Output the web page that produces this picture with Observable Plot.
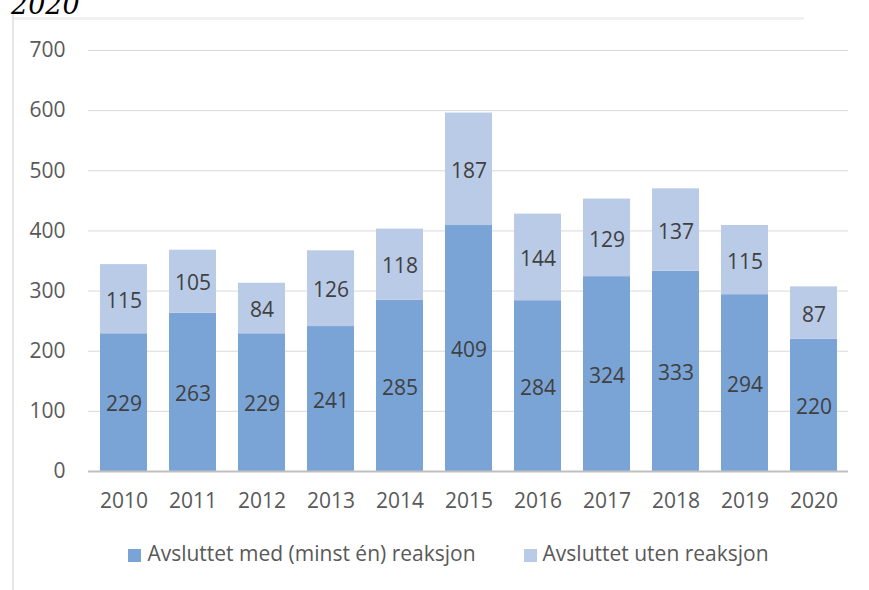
<!DOCTYPE html>
<html><head><meta charset="utf-8">
<script src="https://cdn.jsdelivr.net/npm/d3@7"></script>
<script src="https://cdn.jsdelivr.net/npm/@observablehq/plot@0.6"></script>
<style>
body{margin:0;background:#fff;font-family:"Open Sans",sans-serif;}
#wrap{position:relative;width:869px;height:590px;overflow:hidden;background:#fff;}
#title{position:absolute;left:11px;top:-11px;font:italic 27px "DejaVu Serif",serif;color:#000;line-height:1.2;}
#frame{position:absolute;left:12px;top:14px;width:2px;height:600px;background:#e6e6e6;}
#topline{position:absolute;left:14px;top:17px;width:790px;height:3px;background:#f1f1f1;}
#chart{position:absolute;left:0;top:0;}
#legend{position:absolute;left:0;top:539px;width:869px;display:flex;justify-content:center;gap:48px;font-size:21px;color:#595959;padding-left:28px;box-sizing:border-box;}
#legend span.sw{display:inline-block;width:13px;height:13px;margin-right:6px;vertical-align:-1px;}
</style></head>
<body><div id="wrap">
<div id="frame"></div><div id="topline"></div>
<div id="chart"></div>
<div id="title">2020</div>
<div id="legend"></div>
</div>
<script>
const years = ["2010","2011","2012","2013","2014","2015","2016","2017","2018","2019","2020"];
const medReaksjon = [229,263,229,241,285,409,284,324,333,294,220];
const utenReaksjon = [115,105,84,126,118,187,144,129,137,115,87];
const seriesNames = ["Avsluttet med (minst én) reaksjon","Avsluttet uten reaksjon"];
const colors = ["#7ba4d6","#bacbe7"];
const yTicks = [0,100,200,300,400,500,600,700];

const data = [];
years.forEach((y,i)=>{
  data.push({year:y, series:seriesNames[0], value:medReaksjon[i]});
  data.push({year:y, series:seriesNames[1], value:utenReaksjon[i]});
});

const plot = Plot.plot({
  width:869, height:520,
  marginLeft:88, marginRight:21, marginTop:50, marginBottom:49,
  style:{fontFamily:"Open Sans, sans-serif", fontSize:"21px", color:"#595959", background:"transparent"},
  x:{domain:years, paddingInner:0.32, paddingOuter:0.16, label:null},
  y:{domain:[0,700], label:null},
  color:{domain:seriesNames, range:colors},
  marks:[
    Plot.gridY(yTicks.slice(1), {stroke:"#d9d9d9", strokeOpacity:1, strokeWidth:1}),
    Plot.barY(data, Plot.stackY({x:"year", y:"value", fill:"series", order:seriesNames})),
    Plot.text(data, Plot.stackY({x:"year", y:"value", z:"series", order:seriesNames, text:d=>String(d.value), fill:"#404040", fontSize:21, dy:2})),
    Plot.ruleY([0], {stroke:"#bfbfbf", strokeWidth:2}),
    Plot.axisX({tickSize:0, tickPadding:22, fontSize:21, fill:"#595959"}),
    Plot.axisY({ticks:yTicks, tickSize:0, tickPadding:23, fontSize:21, fill:"#595959"})
  ]
});
document.getElementById("chart").appendChild(plot);

const lg = document.getElementById("legend");
seriesNames.forEach((s,i)=>{
  const d = document.createElement("div");
  d.innerHTML = `<span class="sw" style="background:${colors[i]}"></span>${s}`;
  lg.appendChild(d);
});
</script>
</body></html>
